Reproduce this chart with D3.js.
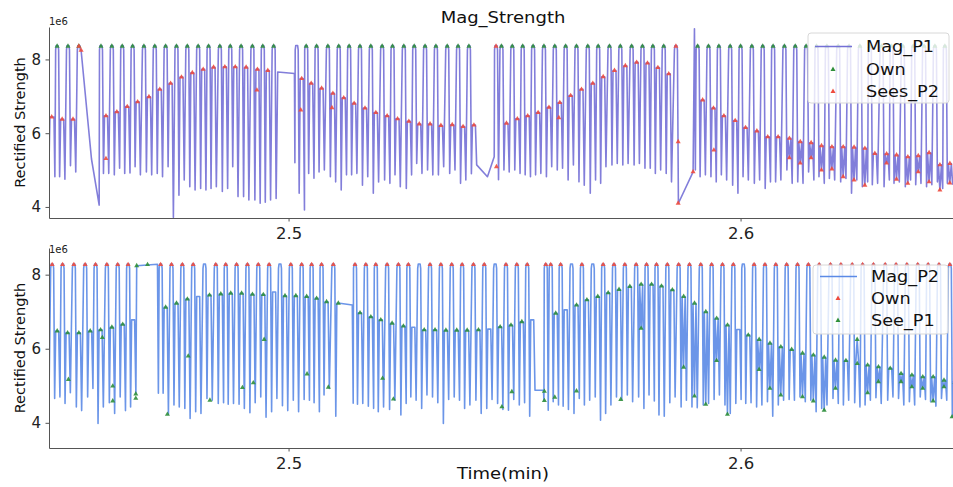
<!DOCTYPE html>
<html>
<head>
<meta charset="utf-8">
<script src="https://cdn.jsdelivr.net/npm/d3@7"></script>
<style>
  body { margin: 0; background: #fff; }
  svg { display: block; font-family: "DejaVu Sans", sans-serif; }
  .axis path, .axis line { stroke: #555; stroke-width: 1; }
  .axis text { fill: #222; font-family: "DejaVu Sans", sans-serif; }
</style>
</head>
<body>
<div id="chart"></div>
<script>
// ---------------- data (values in 1e6, time in minutes) ----------------
const xTicks = [2.5, 2.6];
const yTicks = [4, 6, 8];

// Mag_P1: one entry per pulse cycle (top hump, dip, plateau, dip)
const p1TopLevel = 8.38;
const p1Time = [2.4488, 2.4512, 2.4536, 2.4585, 2.4609, 2.4632, 2.4655, 2.4680, 2.4704, 2.4728,
  2.4752, 2.4776, 2.4800, 2.4823, 2.4848, 2.4871, 2.4895, 2.4920, 2.4943, 2.4967,
  2.5018, 2.5039, 2.5062, 2.5087, 2.5111, 2.5134, 2.5158, 2.5182, 2.5207, 2.5230,
  2.5255, 2.5278, 2.5302, 2.5326, 2.5351, 2.5375, 2.5399, 2.5459, 2.5471, 2.5495,
  2.5518, 2.5541, 2.5565, 2.5589, 2.5613, 2.5637, 2.5662, 2.5685, 2.5710, 2.5734,
  2.5759, 2.5783, 2.5806, 2.5830, 2.5857, 2.5905, 2.5929, 2.5952, 2.5977, 2.6000,
  2.6025, 2.6049, 2.6072, 2.6097, 2.6121, 2.6145, 2.6168, 2.6191, 2.6216, 2.6240,
  2.6264, 2.6286, 2.6312, 2.6334, 2.6359, 2.6382, 2.6406, 2.6430, 2.6452];
// marker on the top hump: g = Own, r = Sees_P2, b = both, - = none
const p1TopMark = [
  "g", "g", "b", "g", "g", "g", "g", "g", "g", "g",
  "g", "g", "g", "g", "g", "g", "g", "g", "g", "g",
  "-", "g", "g", "g", "g", "g", "g", "g", "g", "g",
  "g", "g", "g", "g", "g", "g", "g", "r", "g", "g",
  "g", "g", "g", "g", "g", "g", "g", "g", "g", "g",
  "g", "g", "g", "g", "r", "g", "g", "g", "g", "g",
  "g", "g", "g", "g", "g", "g", "g", "g", "g", "g",
  "g", "g", "g", "g", "g", "g", "g", "g", "g"];
const p1DipA = [4.82, 5.12, null, 4.91, 4.87, 4.91, 5.09, 4.95, 4.91, 5.09,
  4.32, 4.55, 4.50, 4.50, 4.42, 5.09, 4.28, 4.19, 4.13, 4.23,
  4.37, 4.91, 4.95, 4.82, 4.46, 4.87, 4.59, 4.37, 4.73, 4.87,
  4.50, 5.18, 5.00, 4.87, 4.91, 4.64, 4.90, 4.74, 5.00, 5.00,
  4.87, 4.87, 4.82, 5.00, 4.73, 4.68, 4.37, 4.64, 5.14, 5.14,
  5.14, 5.05, 4.91, 4.91, 4.10, 4.82, 4.82, 4.87, 4.59, 4.82,
  4.64, 4.50, 4.68, 5.00, 4.68, 4.95, 4.82, 4.77, 4.68, 4.37,
  4.55, 4.60, 4.55, 4.64, 4.55, 4.60, 4.55, 4.68, 4.64];
const p1Plat = [6.38, 6.38, null, 6.47, 6.58, 6.72, 6.85, 6.99, 7.19, 7.35,
  7.52, 7.64, 7.73, 7.79, 7.80, 7.80, 7.79, 7.73, 7.70, null,
  7.48, 7.35, 7.22, 7.08, 6.96, 6.81, 6.68, 6.56, 6.47, 6.39,
  6.32, 6.25, 6.25, 6.21, 6.23, 6.18, 6.22, null, 6.27, 6.39,
  6.47, 6.56, 6.70, 6.83, 7.02, 7.19, 7.35, 7.53, 7.70, 7.83,
  7.92, 7.90, 7.78, 7.61, null, 6.90, 6.68, 6.47, 6.34, 6.15,
  6.06, 5.90, 5.90, 5.86, 5.77, 5.74, 5.66, 5.63, 5.63, 5.62,
  5.59, 5.45, 5.44, 5.41, 5.36, 5.39, 5.47, 5.14, 5.18];
const p1DipB = [4.75, 4.95, null, 4.91, 5.05, 4.92, 4.87, 4.87, 4.82, 3.72,
  4.73, 4.46, 4.46, 4.55, 4.50, 4.28, 4.19, 4.10, 4.19, null,
  3.92, 4.78, 5.00, 4.68, 4.87, 4.91, 4.82, 4.68, 4.64, 4.55,
  4.87, 4.91, 4.87, 5.09, 5.00, 4.73, 5.14, null, 4.95, 4.91,
  4.82, 4.91, 5.09, 5.05, 5.14, 4.59, 4.73, 5.09, 5.18, 5.18,
  5.18, 5.05, 5.00, 4.68, null, 4.87, 4.68, 4.73, 4.37, 4.73,
  4.73, 4.68, 4.73, 4.64, 4.64, 4.73, 4.64, 4.73, 4.77, 4.73,
  4.68, 4.64, 4.73, 4.68, 4.73, 4.64, 4.60, 4.50, 4.60];
// gaps / irregular stretches of the P1 trace
const p1BridgeT = [2.4470, 2.4472, 2.4481, 2.4483, 2.4541, 2.4564, 2.4581,
  2.4976, 2.5013, 2.5014, 2.5440, 2.5455, 2.5895, 2.5898, 2.5900];
const p1BridgeV = [5.19, 6.44, 6.44, 4.82, 8.25, 5.30, 4.05,
  7.66, 7.62, 5.20, 4.82, 5.36, 4.95, 8.83, 5.00];
// noisy low readings inside later plateaus (also Sees_P2 marks)
const p1NoiseT = [2.6108, 2.6132, 2.6156, 2.6179, 2.6202, 2.6227, 2.6251, 2.6275,
  2.6323, 2.6345, 2.6370, 2.6393, 2.6417, 2.6441, 2.6463];
const p1NoiseV = [5.33, 5.19, 5.33, 5.00, 5.03, 4.82, 4.73, 4.59,
  5.19, 4.75, 4.64, 4.95, 4.68, 4.46, 4.65];
// other single Sees_P2 marks
const p1SeesT = [2.4476, 2.4541, 2.4596, 2.4930, 2.5027, 2.5096, 2.5460, 2.5598, 2.5862, 2.5862, 2.5895, 2.5941];
const p1SeesV = [6.44, 8.25, 5.31, 7.17, 6.63, 6.69, 5.09, 6.42, 5.77, 4.10, 4.95, 5.54];

// Mag_P2
const p2TopLevel = 8.29;
const p2Time = [2.4477, 2.4500, 2.4525, 2.4550, 2.4573, 2.4598, 2.4622, 2.4645, 2.4717, 2.4741,
  2.4765, 2.4789, 2.4814, 2.4839, 2.4861, 2.4885, 2.4909, 2.4933, 2.4957, 2.4981,
  2.5005, 2.5029, 2.5051, 2.5073, 2.5099, 2.5147, 2.5171, 2.5193, 2.5218, 2.5243,
  2.5265, 2.5289, 2.5313, 2.5337, 2.5361, 2.5384, 2.5409, 2.5433, 2.5457, 2.5481,
  2.5505, 2.5528, 2.5569, 2.5580, 2.5602, 2.5626, 2.5649, 2.5673, 2.5696, 2.5720,
  2.5744, 2.5769, 2.5792, 2.5814, 2.5838, 2.5863, 2.5887, 2.5912, 2.5936, 2.5960,
  2.5984, 2.6006, 2.6030, 2.6054, 2.6078, 2.6102, 2.6126, 2.6150, 2.6174, 2.6199,
  2.6222, 2.6247, 2.6270, 2.6294, 2.6320, 2.6344, 2.6368, 2.6392, 2.6415, 2.6439, 2.6463];
// r = Own mark on top hump, - = none
const p2TopMark = [
  "r", "r", "r", "r", "r", "r", "r", "r", "r", "r",
  "r", "r", "-", "r", "r", "r", "r", "r", "r", "-",
  "r", "r", "r", "r", "r", "r", "r", "r", "r", "r",
  "r", "-", "r", "r", "r", "r", "r", "r", "-", "r",
  "r", "r", "r", "r", "r", "-", "r", "-", "r", "r",
  "r", "r", "r", "r", "r", "r", "r", "r", "r", "r",
  "r", "-", "r", "r", "r", "r", "r", "r", "r", "r",
  "r", "r", "r", "r", "r", "r", "r", "r", "r", "r", "r"];
const p2DipA = [4.66, 4.52, 4.43, 4.70, 3.98, 4.54, 4.70, 4.43, 4.80, 4.48,
  4.39, 4.30, 4.66, 4.52, 4.50, 4.50, 4.27, 4.70, 4.30, 4.46,
  4.61, 4.63, 4.54, 4.75, 4.18, 4.50, 4.45, 4.30, 4.36, 4.21,
  4.70, 4.39, 4.70, 3.98, 4.70, 4.39, 4.61, 4.39, 4.52, 4.34,
  4.48, 4.18, 4.34, 4.57, 4.45, 4.25, 4.48, 4.70, 4.25, 4.70,
  4.75, 4.70, 4.75, 4.21, 4.54, 4.43, 4.43, 4.48, 4.63, 4.48,
  4.52, 4.52, 4.43, 4.57, 4.48, 4.63, 4.70, 4.61, 4.39, 4.66,
  4.48, 4.54, 4.48, 4.68, 4.61, 4.66, 4.57, 4.70, 4.57, 4.66, 4.16];
const p2Plat = [6.48, 6.43, 6.43, 6.48, 6.51, 6.58, 6.66, 6.78, 7.12, 7.23,
  7.34, 7.41, 7.45, 7.48, 7.50, 7.50, 7.47, 7.46, 7.53, 7.43,
  7.43, 7.41, 7.36, 7.27, 7.23, 6.97, 6.86, 6.78, 6.69, 6.61,
  6.58, 6.51, 6.51, 6.50, 6.50, 6.50, 6.51, 6.53, 6.59, 6.64,
  6.73, 6.78, null, 6.96, 7.05, 7.18, 7.32, 7.41, 7.51, 7.60,
  7.68, 7.74, 7.74, 7.69, 7.59, 7.41, 7.23, 7.00, 6.82, 6.64,
  6.52, 6.37, 6.25, 6.15, 6.05, 5.98, 5.88, 5.83, 5.77, 5.69,
  5.68, 5.60, 5.56, 5.51, 5.47, 5.33, 5.29, 5.24, 5.24, 5.15, 5.10];
const p2DipB = [4.70, 4.81, 4.33, 4.93, 4.43, 4.25, 4.33, 4.80, 4.23, 4.43,
  4.12, 4.25, 4.61, 4.54, 4.52, 4.39, 4.54, 4.15, 4.66, 4.33,
  4.30, 4.61, 4.30, 4.93, null, 4.52, 4.39, 4.43, 4.61, 4.52,
  4.61, 4.75, 4.54, 4.63, 4.61, 4.48, 4.25, 4.63, 4.36, 4.63,
  4.54, 4.88, null, 4.48, 4.36, 4.66, 4.61, 4.07, 4.48, 4.63,
  4.57, 4.39, 4.59, 4.18, 4.70, 4.61, 4.41, 4.52, 4.75, 4.25,
  4.63, 4.54, 4.48, 4.18, 4.61, 4.61, 4.57, 4.30, 4.48, 4.52,
  4.61, 4.43, 4.61, 4.52, 4.70, 4.48, 4.48, 4.63, 4.45, 4.61, null];
// plateaus drawn without a See_P1 mark (cycle index)
const p2PlatNoMark = [7, 11, 18, 30, 37, 41, 44, 60];
const p2BridgeT = [2.4470, 2.4664, 2.4710, 2.4712, 2.5141, 2.5143, 2.5564, 2.5565];
const p2BridgeV = [4.75, 8.24, 8.28, 4.80, 7.18, 4.53, 4.88, 4.60];
const p2NoiseT = [2.5780, 2.5874, 2.5898, 2.5923, 2.5947, 2.5971, 2.6041, 2.6065, 2.6089, 2.6137, 2.6161,
  2.6185, 2.6210, 2.6258, 2.6281, 2.6305, 2.6355, 2.6379, 2.6403, 2.6426, 2.6450];
const p2NoiseV = [6.55, 5.50, 4.72, 4.50, 5.68, 4.23, 5.44, 4.93, 4.75, 4.70, 4.59,
  4.34, 4.93, 6.25, 4.81, 5.11, 5.11, 4.97, 4.93, 4.59, 4.97];
const p2SeeT = [2.4513, 2.4588, 2.4611, 2.4611, 2.4662, 2.4662, 2.4664, 2.4688, 2.4732, 2.4778, 2.4826, 2.4898, 2.4922,
  2.4946, 2.5041, 2.5088, 2.5208, 2.5232, 2.5472, 2.5494, 2.5566, 2.5566, 2.5589, 2.5637, 2.5735, 2.6468];
const p2SeeV = [5.17, 6.30, 4.99, 4.59, 4.78, 4.66, 8.24, 8.27, 4.23, 5.80, 4.61, 4.95, 5.08,
  6.25, 5.32, 4.96, 5.20, 4.64, 4.43, 4.84, 4.85, 4.60, 4.69, 4.86, 4.63, 4.16];

// ---------------- layout ----------------
const W = 953, H = 487;
const RED = "#ee4b3e", GREEN = "#2f8f3a";
const colP1 = "#7470d6", colP2 = "#5b8ae6";
const xDomain = [2.447, 2.647];

const svg = d3.select("#chart").append("svg")
  .attr("width", W).attr("height", H);

// shape offsets of one pulse, in minutes
const off = { rise: 0.00033, top: 0.0002, dipA: 0.00055, p0: 0.00078, pm: 0.00111, p1: 0.00144, dipB: 0.00172 };

function buildTrace(cfg) {
  let pts = [];
  cfg.time.forEach(function (t, i) {
    pts.push([t - off.rise, cfg.top - 0.12], [t - off.top, cfg.top], [t + off.top, cfg.top], [t + off.rise, cfg.top - 0.12]);
    if (cfg.dipA[i] != null) pts.push([t + off.dipA, cfg.dipA[i]]);
    if (cfg.plat[i] != null) pts.push([t + off.p0, cfg.plat[i]], [t + off.p1, cfg.plat[i]]);
    if (cfg.dipB[i] != null) pts.push([t + off.dipB, cfg.dipB[i]]);
  });
  cfg.bridgeT.forEach((t, i) => pts.push([t, cfg.bridgeV[i]]));
  cfg.noiseT.forEach((t, i) => pts.push([t, cfg.noiseV[i]]));
  pts.sort((a, b) => a[0] - b[0]);
  return pts;
}

function drawPanel(cfg) {
  const x = d3.scaleLinear().domain(xDomain).range([49, 953]);
  const y = d3.scaleLinear().domain(cfg.yDomain).range([cfg.bottom, cfg.topPx]);

  const g = svg.append("g");
  const clipId = "clip" + cfg.id;
  svg.append("clipPath").attr("id", clipId).append("rect")
    .attr("x", 49).attr("y", cfg.topPx).attr("width", 953 - 49).attr("height", cfg.bottom - cfg.topPx);

  const plot = g.append("g").attr("clip-path", "url(#" + clipId + ")");

  const pts = buildTrace(cfg);
  plot.append("path")
    .datum(pts)
    .attr("fill", "none")
    .attr("stroke", cfg.color)
    .attr("stroke-width", 1.6)
    .attr("stroke-opacity", 0.9)
    .attr("stroke-linejoin", "round")
    .attr("d", d3.line().x(d => x(d[0])).y(d => y(d[1])));

  // marker points
  let ownPts = [], seePts = [];
  cfg.time.forEach(function (t, i) {
    const m = cfg.topMark[i];
    if (m === cfg.ownChar || m === "b") ownPts.push([t, cfg.top - 0.02]);
    if (m === cfg.seeChar || m === "b") seePts.push([t, cfg.top - 0.02]);
    if (cfg.plat[i] != null && cfg.platNoMark.indexOf(i) < 0) seePts.push([t + off.pm, cfg.plat[i]]);
  });
  cfg.noiseT.forEach((t, i) => seePts.push([t, cfg.noiseV[i]]));
  cfg.extraT.forEach((t, i) => seePts.push([t, cfg.extraV[i]]));

  const tri = d3.symbol().type(d3.symbolTriangle).size(11);
  [[ownPts, cfg.ownColor], [seePts, cfg.seeColor]].forEach(function (pair) {
    plot.selectAll(null).data(pair[0]).enter().append("path")
      .attr("d", tri)
      .attr("fill", pair[1])
      .attr("opacity", 0.9)
      .attr("transform", d => "translate(" + x(d[0]) + "," + y(d[1]) + ")");
  });

  // axes
  const yAxis = d3.axisLeft(y).tickValues(yTicks).tickFormat(d3.format("d")).tickSizeInner(3.5).tickSizeOuter(0);
  const xAxis = d3.axisBottom(x).tickValues(xTicks).tickFormat(d3.format(".1f")).tickSizeInner(3.5).tickSizeOuter(0);

  g.append("g").attr("class", "axis")
    .attr("transform", "translate(49,0)")
    .call(yAxis)
    .call(a => a.selectAll("text").attr("font-size", 15).attr("dx", "-0.1em").attr("fill", "#222"));

  g.append("g").attr("class", "axis")
    .attr("transform", "translate(0," + cfg.bottom + ")")
    .call(xAxis)
    .call(a => a.selectAll("text").attr("font-size", 15).attr("dy", "0.95em")
      .attr("transform", "scale(1.1,1)"));

  // offset text
  g.append("text").attr("x", 49).attr("y", cfg.topPx - 2 + cfg.offsetDy)
    .attr("font-size", 10).attr("fill", "#222").text("1e6");

  // y label
  g.append("text")
    .attr("transform", "translate(" + 25 + "," + ((cfg.topPx + cfg.bottom) / 2) + ") rotate(-90)")
    .attr("text-anchor", "middle")
    .attr("font-size", 14.5).attr("fill", "#111")
    .text("Rectified Strength");

  // legend
  const lg = g.append("g");
  const L = cfg.legend;
  lg.append("rect").attr("x", L.x).attr("y", L.y).attr("width", L.w).attr("height", L.h)
    .attr("rx", 3).attr("fill", "#fff").attr("fill-opacity", 0.8)
    .attr("stroke", "#d8d8d8").attr("stroke-width", 1);
  lg.append("line").attr("x1", L.x + 7).attr("x2", L.x + 44)
    .attr("y1", L.rows[0]).attr("y2", L.rows[0])
    .attr("stroke", cfg.color).attr("stroke-width", 1.5);
  lg.append("path").attr("d", tri).attr("fill", cfg.ownColor)
    .attr("transform", "translate(" + (L.x + 25) + "," + L.rows[1] + ")");
  lg.append("path").attr("d", tri).attr("fill", cfg.seeColor)
    .attr("transform", "translate(" + (L.x + 25) + "," + L.rows[2] + ")");
  cfg.labels.forEach(function (s, i) {
    lg.append("text")
      .attr("transform", "translate(" + (L.x + 58) + "," + (L.rows[i] + 5.5) + ") scale(1.18,1)")
      .attr("font-size", 15).attr("fill", "#111").text(s);
  });
}

drawPanel({
  id: 1, color: colP1, top: p1TopLevel,
  time: p1Time, topMark: p1TopMark, dipA: p1DipA, plat: p1Plat, dipB: p1DipB,
  bridgeT: p1BridgeT, bridgeV: p1BridgeV, noiseT: p1NoiseT, noiseV: p1NoiseV,
  extraT: p1SeesT, extraV: p1SeesV, platNoMark: [],
  ownChar: "g", seeChar: "r", ownColor: GREEN, seeColor: RED,
  yDomain: [3.70, 8.88], topPx: 27, bottom: 218, offsetDy: 0,
  legend: { x: 808, y: 33, w: 141, h: 70, rows: [46.5, 69.5, 91.5] },
  labels: ["Mag_P1", "Own", "Sees_P2"]
});

drawPanel({
  id: 2, color: colP2, top: p2TopLevel,
  time: p2Time, topMark: p2TopMark, dipA: p2DipA, plat: p2Plat, dipB: p2DipB,
  bridgeT: p2BridgeT, bridgeV: p2BridgeV, noiseT: p2NoiseT, noiseV: p2NoiseV,
  extraT: p2SeeT, extraV: p2SeeV, platNoMark: p2PlatNoMark,
  ownChar: "r", seeChar: "g", ownColor: RED, seeColor: GREEN,
  yDomain: [3.32, 8.72], topPx: 248, bottom: 448, offsetDy: 7,
  legend: { x: 813, y: 265, w: 135, h: 69, rows: [276.5, 298.5, 320.5] },
  labels: ["Mag_P2", "Own", "See_P1"]
});

// title and x label
svg.append("text")
  .attr("transform", "translate(503,23) scale(1.2,1)")
  .attr("text-anchor", "middle").attr("font-size", 15).attr("fill", "#111")
  .text("Mag_Strength");
svg.append("text")
  .attr("transform", "translate(503,479) scale(1.2,1)")
  .attr("text-anchor", "middle").attr("font-size", 15).attr("fill", "#111")
  .text("Time(min)");
</script>
</body>
</html>
